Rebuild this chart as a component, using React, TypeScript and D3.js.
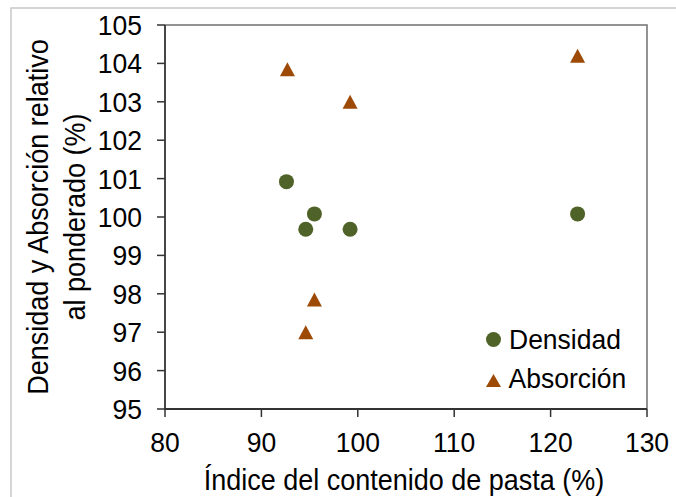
import React from "react";
import * as d3 from "d3";

const densidadX = [92.6, 95.5, 94.6, 99.2, 122.8];
const densidadY = [100.92, 100.08, 99.68, 99.68, 100.08];
const absorcionX = [92.7, 99.2, 122.8, 95.5, 94.6];
const absorcionY = [103.85, 103.0, 104.2, 97.85, 97.0];
const xTicks = [80, 90, 100, 110, 120, 130];
const yTicks = [95, 96, 97, 98, 99, 100, 101, 102, 103, 104, 105];
const seriesNames = ["Densidad", "Absorción"];

const W = 676;
const H = 497;
const M = { left: 165, right: 647, top: 25, bottom: 409 };
const GREEN = "#4F6228";
const BROWN = "#9C4A06";
const FONT = "'Liberation Sans', Arial, sans-serif";
const SY = 1.07;

function T(props: { x: number; y: number; size: number; anchor?: string; rot?: boolean; children: React.ReactNode }) {
  const { x, y, size, anchor = "start", rot = false, children } = props;
  const tf = rot
    ? `translate(${x},${y}) rotate(-90) scale(1,${SY})`
    : `translate(${x},${y}) scale(1,${SY})`;
  return (
    <text transform={tf} textAnchor={anchor} fontSize={size} fill="#000">
      {children}
    </text>
  );
}

export default function App() {
  const x = d3.scaleLinear().domain([80, 130]).range([M.left, M.right]);
  const y = d3.scaleLinear().domain([95, 105]).range([M.bottom, M.top]);
  const tri = (cx: number, cy: number, w = 15, h = 14) =>
    `M${cx},${cy - h / 2}L${cx + w / 2},${cy + h / 2}L${cx - w / 2},${cy + h / 2}Z`;
  const cy = (M.top + M.bottom) / 2;
  return (
    <svg
      width={W}
      height={H}
      style={{ position: "absolute", left: 0, top: 0, background: "#fff" }}
      fontFamily={FONT}
    >
      <rect x={11} y={8} width={800} height={700} fill="#fff" stroke="#c8c8c8" strokeWidth={1.5} />
      <path
        d={`M${M.left},${M.top}H${M.right}V${M.bottom}`}
        fill="none"
        stroke="#707070"
        strokeWidth={1.5}
      />
      <line x1={M.left} x2={M.right} y1={M.bottom} y2={M.bottom} stroke="#333" strokeWidth={1.8} />
      <line x1={M.left} x2={M.left} y1={M.top} y2={M.bottom + 1} stroke="#333" strokeWidth={1.8} />
      {yTicks.map((t) => (
        <g key={"y" + t}>
          <line x1={M.left - 8} x2={M.left} y1={y(t)} y2={y(t)} stroke="#333" strokeWidth={1.5} />
          <T x={142} y={y(t) + 10} size={26.5} anchor="end">
            {t}
          </T>
        </g>
      ))}
      {xTicks.map((t) => (
        <g key={"x" + t}>
          <line x1={x(t)} x2={x(t)} y1={M.bottom} y2={M.bottom + 8} stroke="#333" strokeWidth={1.5} />
          <T x={x(t)} y={451.5} size={26.5} anchor="middle">
            {t}
          </T>
        </g>
      ))}
      <T x={(M.left + M.right) / 2 - 2} y={490} size={27} anchor="middle">
        Índice del contenido de pasta (%)
      </T>
      <T x={48} y={cy} size={27} anchor="middle" rot>
        Densidad y Absorción relativo
      </T>
      <T x={85} y={cy} size={27} anchor="middle" rot>
        al ponderado (%)
      </T>
      {densidadX.map((v, i) => (
        <circle key={"d" + i} cx={x(v)} cy={y(densidadY[i])} r={7.5} fill={GREEN} />
      ))}
      {absorcionX.map((v, i) => (
        <path key={"a" + i} d={tri(x(v), y(absorcionY[i]))} fill={BROWN} />
      ))}
      <circle cx={493.5} cy={339.5} r={7.5} fill={GREEN} />
      <T x={509} y={348.5} size={26.5}>
        {seriesNames[0]}
      </T>
      <path d={tri(493.5, 380.5, 15, 13)} fill={BROWN} />
      <T x={508.5} y={388} size={26.5}>
        {seriesNames[1]}
      </T>
    </svg>
  );
}
